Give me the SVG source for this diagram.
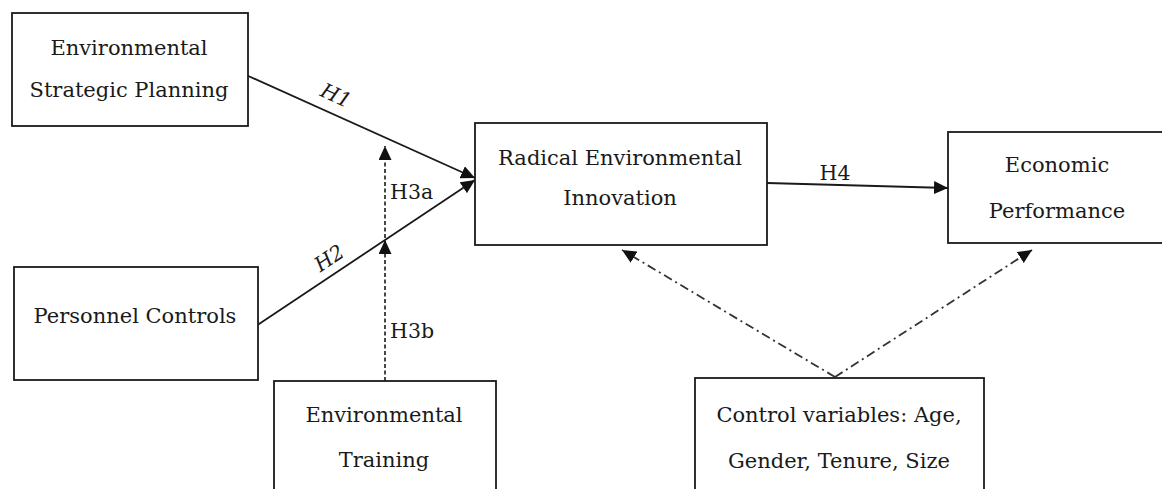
<svg xmlns="http://www.w3.org/2000/svg" width="1162" height="489" viewBox="0 0 1162 489">
<style>
  .box { fill: #ffffff; stroke: #1a1a1a; stroke-width: 1.8; }
  .t { font-family: "DejaVu Serif", "Liberation Serif", serif; font-size: 21px; fill: #1a1a1a; text-anchor: middle; }
  .lbl { font-family: "DejaVu Serif", "Liberation Serif", serif; font-size: 20.5px; fill: #1a1a1a; }
  .solid { stroke: #1a1a1a; stroke-width: 1.8; fill: none; }
  .dash { stroke: #1a1a1a; stroke-width: 1.6; fill: none; stroke-dasharray: 4 2.5; }
  .dashdot { stroke: #333333; stroke-width: 1.8; fill: none; stroke-dasharray: 9 4 2 4; }
</style>
<defs>
  <marker id="ah" markerUnits="userSpaceOnUse" markerWidth="15" markerHeight="13" refX="14" refY="6.5" orient="auto">
    <path d="M0,0 L14,6.5 L0,13 Z" fill="#111111"/>
  </marker>
</defs>
<rect width="1162" height="489" fill="#ffffff"/>

<g id="connectors">
  <line class="solid" x1="246" y1="75" x2="475" y2="178" marker-end="url(#ah)"/>
  <line class="solid" x1="256" y1="326" x2="475" y2="180" marker-end="url(#ah)"/>
  <line class="dash" x1="385" y1="381" x2="385" y2="240" marker-end="url(#ah)"/>
  <line class="dash" x1="385" y1="238" x2="385" y2="146" marker-end="url(#ah)"/>
  <line class="solid" x1="767" y1="183" x2="948" y2="188" marker-end="url(#ah)"/>
  <line class="dashdot" x1="835" y1="377" x2="622" y2="250" marker-end="url(#ah)"/>
  <line class="dashdot" x1="835" y1="377" x2="1032" y2="250" marker-end="url(#ah)"/>
  <text class="lbl" font-style="italic" text-anchor="middle" transform="translate(333,102) rotate(24.5)">H1</text>
  <text class="lbl" font-style="italic" text-anchor="middle" transform="translate(333,264) rotate(-33.7)">H2</text>
  <text class="lbl" x="390" y="199">H3a</text>
  <text class="lbl" x="390" y="338">H3b</text>
  <text class="lbl" x="835" y="180" text-anchor="middle">H4</text>
</g>

<g id="esp">
  <rect class="box" x="12" y="13" width="236" height="113"/>
  <text class="t" x="129" y="55">Environmental</text>
  <text class="t" x="129" y="97">Strategic Planning</text>
</g>

<g id="personnel">
  <rect class="box" x="14" y="267" width="244" height="113"/>
  <text class="t" x="135" y="323">Personnel Controls</text>
</g>

<g id="training">
  <rect class="box" x="274" y="381" width="222" height="120"/>
  <text class="t" x="384" y="422">Environmental</text>
  <text class="t" x="384" y="467">Training</text>
</g>

<g id="radical">
  <rect class="box" x="475" y="123" width="292" height="122"/>
  <text class="t" x="620" y="165">Radical Environmental</text>
  <text class="t" x="620" y="205">Innovation</text>
</g>

<g id="economic">
  <rect class="box" x="948" y="132" width="220" height="111"/>
  <text class="t" x="1057" y="172">Economic</text>
  <text class="t" x="1057" y="218">Performance</text>
</g>

<g id="controls">
  <rect class="box" x="695" y="378" width="289" height="120"/>
  <text class="t" x="839" y="422">Control variables: Age,</text>
  <text class="t" x="839" y="468">Gender, Tenure, Size</text>
</g>
</svg>
